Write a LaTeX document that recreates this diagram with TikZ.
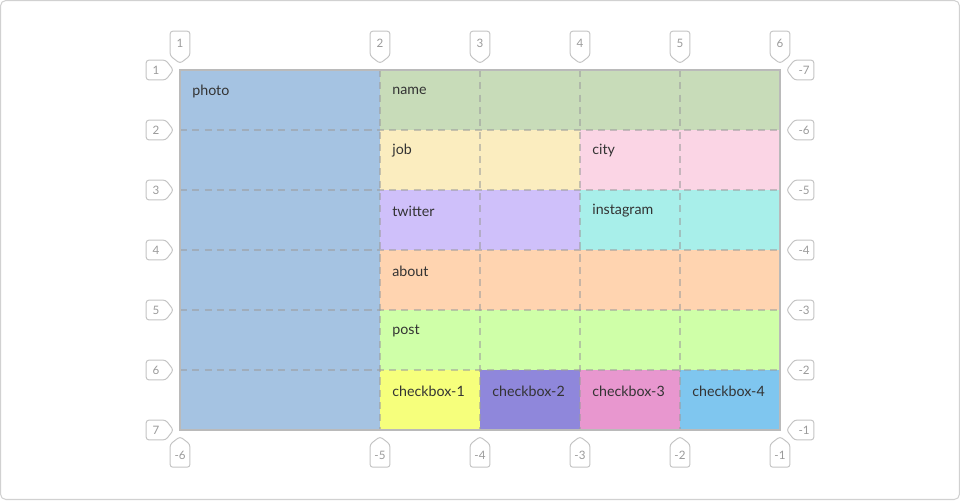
\documentclass[tikz,border=0pt]{standalone}
\usepackage{fontspec}
\setmainfont{Lato}
\usetikzlibrary{shapes.symbols}
\definecolor{cphoto}{HTML}{A5C3E2}
\definecolor{cname}{HTML}{C8DCB9}
\definecolor{cjob}{HTML}{FBEDBF}
\definecolor{ccity}{HTML}{FBD5E5}
\definecolor{ctwitter}{HTML}{CFC0FA}
\definecolor{cinsta}{HTML}{A8EFEA}
\definecolor{cabout}{HTML}{FFD4B0}
\definecolor{cpost}{HTML}{CFFFA8}
\definecolor{cbox1}{HTML}{F6FF7C}
\definecolor{cbox2}{HTML}{8F87DB}
\definecolor{cbox3}{HTML}{E897CF}
\definecolor{cbox4}{HTML}{7FC6EF}
\definecolor{tagline}{HTML}{C4C4C4}
\definecolor{tagtext}{HTML}{9A9A9A}
\definecolor{gridline}{HTML}{9C9C9C}
\tikzset{
  celltext/.style={anchor=west,inner sep=0pt,text=black!80,font=\fontsize{8.1}{9}\selectfont},
  tag/.style={signal,draw=tagline,line width=0.55pt,rounded corners=1.6pt,fill=white,
    text=tagtext,inner sep=0pt,font=\fontsize{6.6}{7}\selectfont,signal pointer angle=105},
  vtag/.style={tag,minimum width=11.3pt,minimum height=15.5pt},
  htag/.style={tag,minimum width=15.5pt,minimum height=11.3pt},
  gridcut/.style={gridline,opacity=0.55,line width=0.9pt,dash pattern=on 4pt off 3pt}
}
\begin{document}
\begin{tikzpicture}[x=0.02cm,y=-0.02cm]
  \draw[black!18,rounded corners=3pt,line width=0.6pt] (0.5,0.5) rectangle (959.5,499.5);
  %% Areas
  \fill[cphoto] (180,70) rectangle (380,430);
  \fill[cname] (380,70) rectangle (780,130);
  \fill[cjob] (380,130) rectangle (580,190);
  \fill[ccity] (580,130) rectangle (780,190);
  \fill[ctwitter] (380,190) rectangle (580,250);
  \fill[cinsta] (580,190) rectangle (780,250);
  \fill[cabout] (380,250) rectangle (780,310);
  \fill[cpost] (380,310) rectangle (780,370);
  \fill[cbox1] (380,370) rectangle (480,430);
  \fill[cbox2] (480,370) rectangle (580,430);
  \fill[cbox3] (580,370) rectangle (680,430);
  \fill[cbox4] (680,370) rectangle (780,430);
  %% Grid lines
  \foreach \x in {380,480,580,680}
    \draw[gridcut] (\x,70) -- (\x,430);
  \foreach \y in {130,190,250,310,370}
    \draw[gridcut] (180,\y) -- (780,\y);
  \draw[gridline!70,line width=0.8pt] (180,70) rectangle (780,430);
  %% Names
  \node[celltext] (photo) at (192,91) {photo};
  \node[celltext] (name) at (392,91) {name};
  \node[celltext] (job) at (392,151) {job};
  \node[celltext] (city) at (592,151) {city};
  \node[celltext] (twitter) at (392,211) {twitter};
  \node[celltext] (instagram) at (592,211) {instagram};
  \node[celltext] (about) at (392,271) {about};
  \node[celltext] (post) at (392,331) {post};
  \node[celltext] (checkbox1) at (392,391) {checkbox-1};
  \node[celltext] (checkbox2) at (492,391) {checkbox-2};
  \node[celltext] (checkbox3) at (592,391) {checkbox-3};
  \node[celltext] (checkbox4) at (692,391) {checkbox-4};
  %% Line numbers
  \foreach \x [count=\i] in {180,380,480,580,680,780}{
    \node[vtag,signal to=south,anchor=south] (top\i) at (\x,64) {\i};
    \pgfmathtruncatemacro\j{\i-7}
    \node[vtag,signal to=north,anchor=north] (bot\i) at (\x,436) {\j};
  }
  \foreach \y [count=\i] in {70,130,190,250,310,370,430}{
    \node[htag,signal to=east,anchor=east] (left\i) at (174,\y) {\i};
    \pgfmathtruncatemacro\j{\i-8}
    \node[htag,signal to=west,anchor=west] (right\i) at (786,\y) {\j};
  }
\end{tikzpicture}
\end{document}
